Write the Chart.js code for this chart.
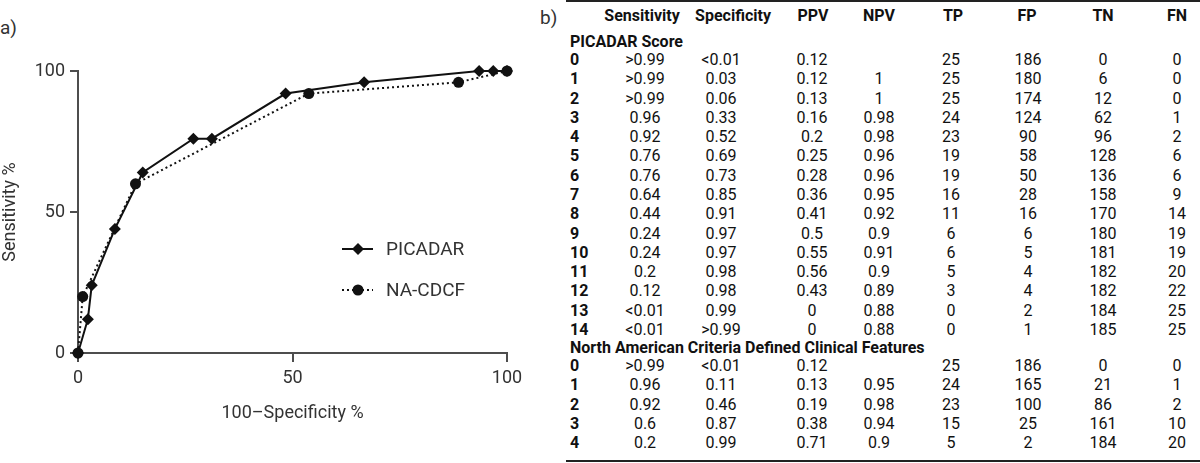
<!DOCTYPE html>
<html lang="en">
<head>
<meta charset="UTF-8">
<title>PICADAR vs NA-CDCF</title>
<script src="https://cdn.jsdelivr.net/npm/chart.js"></script>
<style>
  body {
    margin: 0;
    width: 1200px;
    height: 463px;
    background: #fff;
    font-family: Roboto, Arial, sans-serif;
    position: relative;
    overflow: hidden;
  }
  #roc { position: absolute; left: 0; top: 0; }
  .panel-label { position: absolute; font-size: 19px; color: #333; line-height: 1; transform: translateY(-50%); }
  .cell {
    position: absolute;
    white-space: nowrap;
    transform: translate(-50%, -50%);
    font-size: 16px;
    color: #111;
    line-height: 1;
  }
  .bold { font-weight: 700; font-size: 16px; }
  .left { transform: translate(0, -50%); }
  .rule { position: absolute; left: 566px; right: 0; height: 2px; background: #222; }
</style>
</head>
<body>
  <div class="panel-label" style="left:0; top:27px;">a)</div>
  <canvas id="roc" width="540" height="463"></canvas>
  <div id="table"></div>
<script>
// ROC points read off panel a)
const picadarX = [0, 2.3, 3.2, 8.6, 15.1, 26.9, 31.2, 48.4, 66.7, 93.5, 96.8, 100];
const picadarY = [0, 12, 24, 44, 64, 76, 76, 92, 96, 100, 100, 100];
const nacdcfX = [0, 1.1, 13.4, 53.8, 88.7, 100];
const nacdcfY = [0, 20, 60, 92, 96, 100];

// table b)
const columns = ['Sensitivity', 'Specificity', 'PPV', 'NPV', 'TP', 'FP', 'TN', 'FN'];

const picScores = ['0', '1', '2', '3', '4', '5', '6', '7', '8', '9', '10', '11', '12', '13', '14'];
const picSensitivity = ['>0.99', '>0.99', '>0.99', '0.96', '0.92', '0.76', '0.76', '0.64', '0.44', '0.24', '0.24', '0.2', '0.12', '<0.01', '<0.01'];
const picSpecificity = ['<0.01', '0.03', '0.06', '0.33', '0.52', '0.69', '0.73', '0.85', '0.91', '0.97', '0.97', '0.98', '0.98', '0.99', '>0.99'];
const picPPV = ['0.12', '0.12', '0.13', '0.16', '0.2', '0.25', '0.28', '0.36', '0.41', '0.5', '0.55', '0.56', '0.43', '0', '0'];
const picNPV = ['', '1', '1', '0.98', '0.98', '0.96', '0.96', '0.95', '0.92', '0.9', '0.91', '0.9', '0.89', '0.88', '0.88'];
const picTP = [25, 25, 25, 24, 23, 19, 19, 16, 11, 6, 6, 5, 3, 0, 0];
const picFP = [186, 180, 174, 124, 90, 58, 50, 28, 16, 6, 5, 4, 4, 2, 1];
const picTN = [0, 6, 12, 62, 96, 128, 136, 158, 170, 180, 181, 182, 182, 184, 185];
const picFN = [0, 0, 0, 1, 2, 6, 6, 9, 14, 19, 19, 20, 22, 25, 25];

const naScores = ['0', '1', '2', '3', '4'];
const naSensitivity = ['>0.99', '0.96', '0.92', '0.6', '0.2'];
const naSpecificity = ['<0.01', '0.11', '0.46', '0.87', '0.99'];
const naPPV = ['0.12', '0.13', '0.19', '0.38', '0.71'];
const naNPV = ['', '0.95', '0.98', '0.94', '0.9'];
const naTP = [25, 24, 23, 15, 5];
const naFP = [186, 165, 100, 25, 2];
const naTN = [0, 21, 86, 161, 184];
const naFN = [0, 1, 2, 10, 20];

const toPoints = (xs, ys) => xs.map((x, i) => ({ x: x, y: ys[i] }));
const axisColor = '#4d4d4d';
const textColor = '#333';

// legend with line + marker, drawn inside the plot
const rocLegend = {
  id: 'rocLegend',
  afterDatasetsDraw(chart) {
    const ctx = chart.ctx;
    chart.data.datasets.forEach((ds, i) => {
      const y = 249 + i * 41;
      const x0 = 342, x1 = 373, xm = 358;
      ctx.save();
      ctx.strokeStyle = ds.borderColor;
      ctx.lineWidth = ds.borderWidth;
      ctx.setLineDash(ds.borderDash || []);
      ctx.beginPath();
      ctx.moveTo(x0, y);
      ctx.lineTo(x1, y);
      ctx.stroke();
      ctx.setLineDash([]);
      ctx.fillStyle = ds.pointBackgroundColor;
      ctx.beginPath();
      const r = ds.pointRadius;
      if (ds.pointStyle === 'rectRot') {
        ctx.moveTo(xm, y - r);
        ctx.lineTo(xm + r, y);
        ctx.lineTo(xm, y + r);
        ctx.lineTo(xm - r, y);
        ctx.closePath();
      } else {
        ctx.arc(xm, y, r, 0, Math.PI * 2);
      }
      ctx.fill();
      ctx.fillStyle = textColor;
      ctx.font = '19px Roboto';
      ctx.textBaseline = 'middle';
      ctx.fillText(ds.label, 386, y + 1);
      ctx.restore();
    });
  }
};

new Chart(document.getElementById('roc'), {
  type: 'scatter',
  data: {
    datasets: [
      {
        label: 'PICADAR',
        data: toPoints(picadarX, picadarY),
        showLine: true,
        borderColor: '#111',
        borderWidth: 2,
        pointStyle: 'rectRot',
        pointRadius: 6,
        pointBackgroundColor: '#111',
        pointBorderColor: '#111',
        pointBorderWidth: 0,
        clip: false,
        order: 1
      },
      {
        label: 'NA-CDCF',
        data: toPoints(nacdcfX, nacdcfY),
        showLine: true,
        borderColor: '#111',
        borderWidth: 2,
        borderDash: [2, 3],
        pointStyle: 'circle',
        pointRadius: 5.5,
        pointBackgroundColor: '#111',
        pointBorderColor: '#111',
        pointBorderWidth: 0,
        clip: false,
        order: 0
      }
    ]
  },
  options: {
    responsive: false,
    animation: false,
    layout: { padding: { top: 71, right: 33, left: 0, bottom: 0 } },
    plugins: { legend: { display: false }, tooltip: { enabled: false } },
    scales: {
      x: {
        type: 'linear',
        min: 0,
        max: 100,
        ticks: { stepSize: 50, color: textColor, padding: 6, font: { family: 'Roboto', size: 18 } },
        grid: { drawOnChartArea: false, drawTicks: true, tickLength: 9, color: axisColor, lineWidth: 2 },
        border: { color: axisColor, width: 2 },
        title: {
          display: true,
          text: '100\u2013Specificity %',
          color: textColor,
          font: { family: 'Roboto', size: 18 },
          padding: { top: 0, bottom: 39 }
        },
        afterFit: s => { s.height = 110; }
      },
      y: {
        type: 'linear',
        min: 0,
        max: 100,
        ticks: { stepSize: 50, color: textColor, padding: 5, font: { family: 'Roboto', size: 18 } },
        grid: { drawOnChartArea: false, drawTicks: true, tickLength: 8, color: axisColor, lineWidth: 2 },
        border: { color: axisColor, width: 2 },
        title: {
          display: true,
          text: 'Sensitivity %',
          color: textColor,
          font: { family: 'Roboto', size: 18 },
          padding: { top: 0, bottom: 0 }
        },
        afterFit: s => { s.width = 78; }
      }
    }
  },
  plugins: [rocLegend]
});

// table b)
const table = document.getElementById('table');
const headerX = [642, 733, 813, 879, 953, 1027, 1103, 1177];
const valueX = [645, 721, 812, 879, 951, 1028, 1103, 1177];
const labelX = 570;
const rowStep = 19.28;

function addCell(text, x, y, cls) {
  const d = document.createElement('div');
  d.className = 'cell' + (cls ? ' ' + cls : '');
  d.style.left = x + 'px';
  d.style.top = y + 'px';
  d.textContent = text;
  table.appendChild(d);
}

function addRule(y) {
  const d = document.createElement('div');
  d.className = 'rule';
  d.style.top = y + 'px';
  table.appendChild(d);
}

function addBlock(title, titleY, scores, cols) {
  addCell(title, labelX, titleY, 'bold left');
  scores.forEach((s, i) => {
    const y = titleY + 18 + i * rowStep;
    addCell(s, labelX, y, 'bold left');
    cols.forEach((col, j) => addCell(String(col[i]), valueX[j], y));
  });
}

addCell('b)', 540, 17, 'left');
table.lastChild.style.fontSize = '19px';
table.lastChild.style.color = '#333';
addRule(0);
columns.forEach((c, j) => addCell(c, headerX[j], 16, 'bold'));
addBlock('PICADAR Score', 42, picScores,
  [picSensitivity, picSpecificity, picPPV, picNPV, picTP, picFP, picTN, picFN]);
addBlock('North American Criteria Defined Clinical Features', 348, naScores,
  [naSensitivity, naSpecificity, naPPV, naNPV, naTP, naFP, naTN, naFN]);
addRule(460);
</script>
</body>
</html>
